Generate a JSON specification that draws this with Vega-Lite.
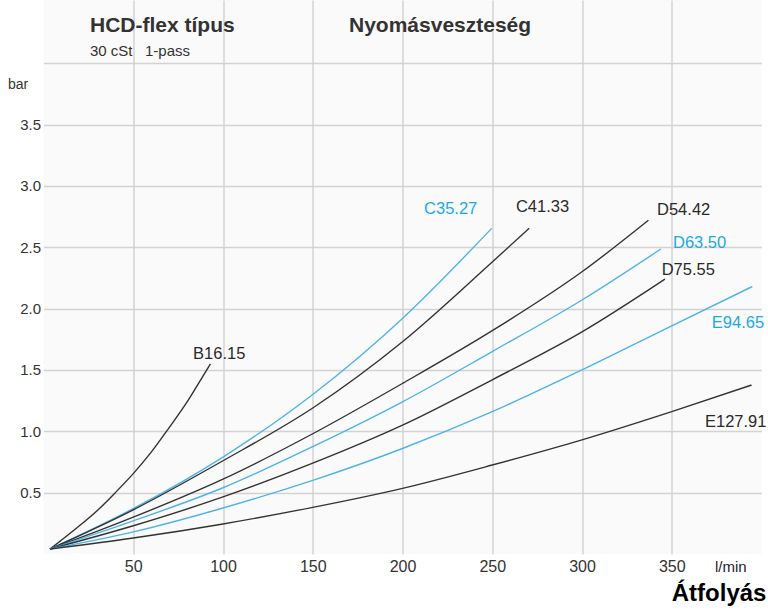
{
  "$schema": "https://vega.github.io/schema/vega-lite/v6.json",
  "width": 718,
  "height": 554,
  "autosize": {"type": "none"},
  "padding": {"left": 43.5, "top": 0, "right": 6.5, "bottom": 57},
  "background": "white",
  "config": {"view": {"stroke": null, "fill": "#fafafa"}, "font": "Liberation Sans"},
  "title": {"text": "Átfolyás", "orient": "bottom", "anchor": "end", "fontSize": 24, "fontWeight": "bold", "color": "#000000", "offset": 8, "font": "Liberation Sans"},
  "datasets": {
    "curves": [
      {"series": "B16.15", "q": 3.6, "p": 0.04}, {"series": "B16.15", "q": 20, "p": 0.23}, {"series": "B16.15", "q": 30, "p": 0.355}, {"series": "B16.15", "q": 40, "p": 0.5}, {"series": "B16.15", "q": 50, "p": 0.655}, {"series": "B16.15", "q": 60, "p": 0.83}, {"series": "B16.15", "q": 70, "p": 1.03}, {"series": "B16.15", "q": 80, "p": 1.24}, {"series": "B16.15", "q": 88, "p": 1.43}, {"series": "B16.15", "q": 93, "p": 1.55},
      {"series": "C35.27", "q": 3.6, "p": 0.04}, {"series": "C35.27", "q": 50, "p": 0.37}, {"series": "C35.27", "q": 100, "p": 0.79}, {"series": "C35.27", "q": 150, "p": 1.3}, {"series": "C35.27", "q": 200, "p": 1.92}, {"series": "C35.27", "q": 249.7, "p": 2.654},
      {"series": "C41.33", "q": 3.6, "p": 0.04}, {"series": "C41.33", "q": 50, "p": 0.36}, {"series": "C41.33", "q": 100, "p": 0.76}, {"series": "C41.33", "q": 150, "p": 1.19}, {"series": "C41.33", "q": 200, "p": 1.73}, {"series": "C41.33", "q": 250, "p": 2.38}, {"series": "C41.33", "q": 270.6, "p": 2.654},
      {"series": "D54.42", "q": 3.6, "p": 0.04}, {"series": "D54.42", "q": 50, "p": 0.3}, {"series": "D54.42", "q": 100, "p": 0.61}, {"series": "D54.42", "q": 150, "p": 0.98}, {"series": "D54.42", "q": 200, "p": 1.39}, {"series": "D54.42", "q": 250, "p": 1.82}, {"series": "D54.42", "q": 300, "p": 2.3}, {"series": "D54.42", "q": 337, "p": 2.72},
      {"series": "D63.50", "q": 3.6, "p": 0.04}, {"series": "D63.50", "q": 50, "p": 0.27}, {"series": "D63.50", "q": 100, "p": 0.54}, {"series": "D63.50", "q": 150, "p": 0.875}, {"series": "D63.50", "q": 200, "p": 1.24}, {"series": "D63.50", "q": 250, "p": 1.65}, {"series": "D63.50", "q": 300, "p": 2.07}, {"series": "D63.50", "q": 344, "p": 2.486},
      {"series": "D75.55", "q": 3.6, "p": 0.04}, {"series": "D75.55", "q": 50, "p": 0.23}, {"series": "D75.55", "q": 100, "p": 0.465}, {"series": "D75.55", "q": 150, "p": 0.74}, {"series": "D75.55", "q": 200, "p": 1.05}, {"series": "D75.55", "q": 250, "p": 1.42}, {"series": "D75.55", "q": 300, "p": 1.81}, {"series": "D75.55", "q": 346.2, "p": 2.24},
      {"series": "E94.65", "q": 3.6, "p": 0.04}, {"series": "E94.65", "q": 50, "p": 0.18}, {"series": "E94.65", "q": 100, "p": 0.375}, {"series": "E94.65", "q": 150, "p": 0.6}, {"series": "E94.65", "q": 200, "p": 0.86}, {"series": "E94.65", "q": 250, "p": 1.16}, {"series": "E94.65", "q": 300, "p": 1.5}, {"series": "E94.65", "q": 350, "p": 1.86}, {"series": "E94.65", "q": 394.9, "p": 2.18},
      {"series": "E127.91", "q": 3.6, "p": 0.04}, {"series": "E127.91", "q": 50, "p": 0.13}, {"series": "E127.91", "q": 100, "p": 0.245}, {"series": "E127.91", "q": 150, "p": 0.38}, {"series": "E127.91", "q": 200, "p": 0.535}, {"series": "E127.91", "q": 250, "p": 0.725}, {"series": "E127.91", "q": 300, "p": 0.93}, {"series": "E127.91", "q": 350, "p": 1.16}, {"series": "E127.91", "q": 394.5, "p": 1.377}
    ],
    "labels": [
      {"series": "B16.15", "q": 83.3, "p": 1.59},
      {"series": "C35.27", "q": 212, "p": 2.77},
      {"series": "C41.33", "q": 263.2, "p": 2.79},
      {"series": "D54.42", "q": 341.8, "p": 2.763},
      {"series": "D63.50", "q": 350.7, "p": 2.49},
      {"series": "D75.55", "q": 344.4, "p": 2.274},
      {"series": "E94.65", "q": 372.3, "p": 1.84},
      {"series": "E127.91", "q": 368.5, "p": 1.037}
    ],
    "headings": [
      {"text": "HCD-flex típus", "kind": "main", "q": 25.9, "p": 4.257},
      {"text": "Nyomásveszteség", "kind": "main", "q": 170.2, "p": 4.257},
      {"text": "30 cSt\u00a0\u00a0\u00a01-pass", "kind": "sub", "q": 25.9, "p": 4.06}
    ]
  },
  "encoding": {
    "x": {
      "field": "q", "type": "quantitative",
      "scale": {"domain": [0, 400], "nice": false, "zero": false},
      "axis": {
        "values": [50, 100, 150, 200, 250, 300, 350], "format": "d",
        "title": "l/min", "titleX": 671, "titleY": 17, "titleAlign": "left", "titleBaseline": "alphabetic",
        "titleFontSize": 15, "titleFontWeight": "normal", "titleColor": "#222222",
        "labelFontSize": 16, "labelColor": "#333333", "labelPadding": 4,
        "ticks": false, "domain": false, "grid": true, "gridColor": "#d3d3d3", "gridWidth": 1.5
      }
    },
    "y": {
      "field": "p", "type": "quantitative",
      "scale": {"domain": [0, 4.515], "nice": false},
      "axis": {
        "values": [0.5, 1, 1.5, 2, 2.5, 3, 3.5, 4],
        "labelExpr": "datum.value >= 4 ? '' : format(datum.value, '.1f')",
        "labelFontSize": 15, "labelColor": "#333333", "labelPadding": 3,
        "ticks": false, "domain": false, "grid": true, "gridColor": "#d3d3d3", "gridWidth": 1.5,
        "title": "bar", "titleAngle": 0, "titleX": -36, "titleY": 88, "titleAlign": "left", "titleBaseline": "alphabetic",
        "titleFontSize": 14, "titleFontWeight": "normal", "titleColor": "#333333"
      }
    }
  },
  "layer": [
    {
      "data": {"name": "curves"},
      "mark": {"type": "line", "interpolate": "monotone", "strokeWidth": 1.4},
      "encoding": {
        "color": {"field": "series", "type": "nominal", "legend": null,
          "scale": {"domain": ["B16.15", "C35.27", "C41.33", "D54.42", "D63.50", "D75.55", "E94.65", "E127.91"],
                    "range": ["#333333", "#4db4e8", "#333333", "#333333", "#4db4e8", "#333333", "#4db4e8", "#333333"]}}
      }
    },
    {
      "data": {"name": "labels"},
      "mark": {"type": "text", "align": "left", "baseline": "alphabetic", "fontSize": 16.5, "font": "Liberation Sans"},
      "encoding": {
        "text": {"field": "series"},
        "color": {"field": "series", "type": "nominal", "legend": null,
          "scale": {"domain": ["B16.15", "C35.27", "C41.33", "D54.42", "D63.50", "D75.55", "E94.65", "E127.91"],
                    "range": ["#2a2a2a", "#1ba9e5", "#2a2a2a", "#2a2a2a", "#1ba9e5", "#2a2a2a", "#1ba9e5", "#2a2a2a"]}}
      }
    },
    {
      "data": {"name": "headings"},
      "transform": [{"filter": "datum.kind == 'main'"}],
      "mark": {"type": "text", "align": "left", "baseline": "alphabetic", "fontSize": 21, "fontWeight": "bold", "font": "Liberation Sans", "color": "#333333"},
      "encoding": {"text": {"field": "text"}}
    },
    {
      "data": {"name": "headings"},
      "transform": [{"filter": "datum.kind == 'sub'"}],
      "mark": {"type": "text", "align": "left", "baseline": "alphabetic", "fontSize": 15, "font": "Liberation Sans", "color": "#333333"},
      "encoding": {"text": {"field": "text"}}
    }
  ],
  "resolve": {"scale": {"color": "independent"}}
}
